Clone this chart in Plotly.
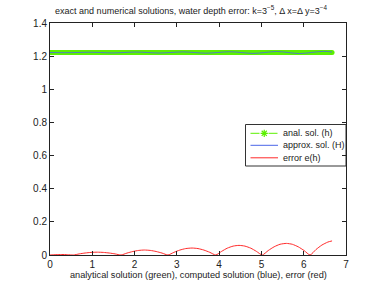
import plotly.graph_objects as go

# analytical solution (constant water depth) over the domain
x_h = [0.0, 6.67]
h_vals = [1.222, 1.222]

# computed solution (oscillating about the analytical one)
x_H = [0.0, 0.36, 0.64, 0.92, 1.2, 1.47, 1.75, 2.03, 2.3, 2.58, 2.86, 3.14, 3.41,
       3.69, 3.97, 4.25, 4.52, 4.8, 5.08, 5.36, 5.63, 5.9, 6.18, 6.47, 6.67]
H_vals = [1.222, 1.221, 1.222, 1.2235, 1.222, 1.2195, 1.222, 1.2245, 1.222, 1.219,
          1.222, 1.2255, 1.222, 1.218, 1.222, 1.2265, 1.222, 1.2165, 1.222, 1.228,
          1.222, 1.2155, 1.222, 1.229, 1.225]

# error e(h)
x_e = [0.0, 0.14, 0.28, 0.41, 0.55,
       0.69, 0.83, 0.97, 1.12, 1.26, 1.40, 1.54, 1.68,
       1.82, 1.96, 2.10, 2.23, 2.37, 2.51, 2.65, 2.79,
       2.93, 3.07, 3.21, 3.36, 3.50, 3.64, 3.78, 3.92,
       4.06, 4.19, 4.33, 4.47, 4.61, 4.75, 4.88, 5.02,
       5.16, 5.30, 5.44, 5.59, 5.73, 5.87, 6.01, 6.15,
       6.29, 6.43, 6.57, 6.67]
e_vals = [0.0, 0.002, 0.003, 0.002, 0.0,
          0.0065, 0.012, 0.0157, 0.017, 0.0157, 0.012, 0.0065, 0.0,
          0.0115, 0.0212, 0.0277, 0.030, 0.0277, 0.0212, 0.0115, 0.0,
          0.016, 0.0297, 0.0388, 0.042, 0.0388, 0.0297, 0.016, 0.0,
          0.0222, 0.041, 0.0536, 0.058, 0.0536, 0.041, 0.0222, 0.0,
          0.0268, 0.0495, 0.0647, 0.070, 0.0647, 0.0495, 0.0268, 0.0,
          0.033, 0.060, 0.078, 0.085]

x_ticks = [0, 1, 2, 3, 4, 5, 6, 7]
y_ticks = [0, 0.2, 0.4, 0.6, 0.8, 1, 1.2, 1.4]
y_tick_labels = ["0", "0.2", "0.4", "0.6", "0.8", "1", "1.2", "1.4"]
legend_names = ["anal. sol. (h)", "approx. sol. (H)", "error e(h)"]

GREEN = "#5cf000"
BLUE = "#4a66e8"
RED = "#ff2a2a"
FONT = "Liberation Sans, Arial, sans-serif"
TXT = "#222222"

# plot-area geometry in pixels
W, H = 382, 287
L, R, T, B = 50, 36, 23, 32
PW, PH = W - L - R, H - T - B


def px(x):
    return (x - L) / PW


def py(y):
    return (H - B - y) / PH


fig = go.Figure()
fig.add_trace(go.Scatter(x=x_h, y=h_vals, mode="lines+markers", showlegend=False,
                         line=dict(color=GREEN, width=5),
                         marker=dict(color=GREEN, size=5, symbol="circle"),
                         hoverinfo="skip"))
fig.add_trace(go.Scatter(x=x_H, y=H_vals, mode="lines", showlegend=False,
                         line=dict(color=BLUE, width=0.8, shape="spline")))
fig.add_trace(go.Scatter(x=x_e, y=e_vals, mode="lines", showlegend=False,
                         line=dict(color=RED, width=1, shape="spline", smoothing=0.6)))

# ---- legend box drawn in the MATLAB style ----
box = dict(x0=245.5, x1=346, y0=124.5, y1=166)
rows = [133.3, 145.3, 157.8]
line_x0, line_x1, text_x = 250.5, 278, 280.5
shapes = [dict(type="rect", xref="paper", yref="paper",
               x0=px(box["x0"]), x1=px(box["x1"]), y0=py(box["y1"]), y1=py(box["y0"]),
               line=dict(color="#333333", width=1), fillcolor="white", layer="below")]
colors = [GREEN, BLUE, RED]
dashes = ["dash", "solid", "solid"]
annotations = []
for name, yy, c, d in zip(legend_names, rows, colors, dashes):
    shapes.append(dict(type="line", xref="paper", yref="paper",
                       x0=px(line_x0), x1=px(line_x1), y0=py(yy), y1=py(yy),
                       line=dict(color=c, width=1, dash=d), layer="above"))
    annotations.append(dict(text=name, xref="paper", yref="paper", x=px(text_x), y=py(yy),
                            xanchor="left", yanchor="middle", showarrow=False,
                            font=dict(family=FONT, size=9, color=TXT)))

# x-axis caption
annotations.append(dict(text="analytical solution (green), computed solution (blue), error (red)",
                        xref="paper", yref="paper", x=0.5, y=py(275), xanchor="center",
                        yanchor="middle", showarrow=False,
                        font=dict(family=FONT, size=9.2, color=TXT)))

# asterisk marker of the first legend row, on a pixel-scaled overlay axis
fig.add_trace(go.Scatter(x=[(line_x0 + line_x1) / 2], y=[rows[0]], mode="markers",
                         xaxis="x2", yaxis="y2", showlegend=False, hoverinfo="skip",
                         marker=dict(symbol="asterisk-open", size=6, color=GREEN,
                                     line=dict(color=GREEN, width=1.2))))

fig.update_layout(
    width=W, height=H,
    margin=dict(l=L, r=R, t=T, b=B, autoexpand=False),
    paper_bgcolor="white", plot_bgcolor="white",
    showlegend=False,
    font=dict(family=FONT, size=10, color=TXT),
    title=dict(text="exact and numerical solutions, water depth error: k=3<sup>−5</sup>, Δ x=Δ y=3<sup>−4</sup>",
               x=0.5, xanchor="center", y=1 - 11 / H, yanchor="middle", automargin=False,
               font=dict(family=FONT, size=9, color=TXT)),
    shapes=shapes,
    annotations=annotations,
    xaxis=dict(range=[0, 7], tickvals=x_ticks, ticks="inside", ticklen=4, automargin=False,
               showline=True, linecolor=TXT, linewidth=1, mirror="ticks",
               showgrid=False, zeroline=False, tickcolor=TXT),
    yaxis=dict(range=[0, 1.4], tickvals=y_ticks, ticktext=y_tick_labels, ticks="inside",
               ticklen=4, showline=True, linecolor=TXT, linewidth=1, mirror="ticks",
               automargin=False,
               showgrid=False, zeroline=False, tickcolor=TXT),
    xaxis2=dict(overlaying="x", range=[L, W - R], visible=False, fixedrange=True),
    yaxis2=dict(overlaying="y", range=[H - B, T], visible=False, fixedrange=True),
)

fig.write_html("out.html", config={"displayModeBar": False},
               post_script="document.body.style.margin='0';document.body.style.padding='0';")
